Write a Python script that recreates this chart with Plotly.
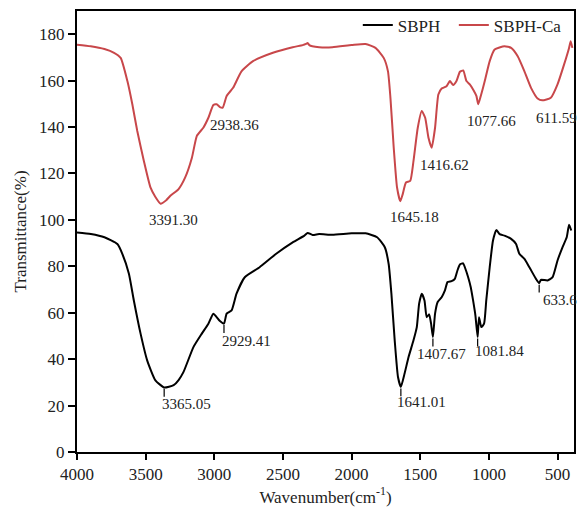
import plotly.graph_objects as go

# SBPH-Ca (red) spectrum
ca_x = [4000, 3900, 3800, 3730, 3682, 3633, 3597, 3561, 3513, 3465, 3430, 3391.30, 3350, 3320, 3260,
        3212, 3163, 3127, 3080, 3043, 3007, 2983, 2959, 2938.36, 2910, 2863, 2802, 2718, 2573,
        2429, 2356, 2332, 2320, 2308, 2286, 2236, 2140, 2000, 1898, 1826, 1766, 1735, 1717,
        1693, 1669, 1645.18, 1628, 1604, 1573, 1549, 1518, 1489, 1464, 1440, 1416.62, 1392,
        1368, 1344, 1308, 1284, 1260, 1236, 1211, 1187, 1163, 1139, 1115, 1091, 1077.66, 1059,
        1030, 994, 958, 886, 838, 790, 741, 693, 645, 611.59, 549, 500, 452, 416, 404, 392]
ca_y = [175.5, 174.8, 173.6, 172, 169.8, 159.8, 149.8, 138.3, 125.4, 114, 110, 107, 108.5, 110.4, 113.3,
        118.3, 126.8, 136.2, 139.7, 144, 149.5, 149.8, 148.6, 148.4, 153.4, 156.9, 164, 168.4, 172,
        174.4, 175.3, 175.8, 176.2, 175.3, 174.8, 174.4, 174.4, 175.3, 175.8, 174.1, 169.8, 164, 152.6,
        131.1, 114, 108, 111, 116.1, 116.8, 125.4, 139.7, 146.9, 144, 135.4, 131.1, 139.7,
        154, 156.6, 157.6, 159.8, 158.1, 159.8, 163.8, 164.4, 159.8, 158.4, 156.2, 153.4, 149.8, 153.4,
        159.8, 168.4, 173.4, 174.8, 174.1, 170.5, 164, 156.9, 152.3, 151.5, 152.6, 158.4, 167, 174.1, 177, 174.1]

# SBPH (black) spectrum
sb_x = [4000, 3899, 3800, 3706, 3670, 3622, 3586, 3537, 3489, 3429, 3365.05, 3296, 3260, 3224, 3152,
        3091, 3043, 3007, 2983, 2959, 2929.41, 2910, 2874, 2838, 2778, 2670, 2549, 2429, 2344,
        2320, 2284, 2236, 2140, 2000, 1898, 1814, 1758, 1730, 1710, 1686, 1662, 1641.01, 1614,
        1585, 1549, 1525, 1508, 1489, 1469, 1453, 1435, 1421, 1407.67, 1392, 1373, 1344, 1320,
        1301, 1272, 1248, 1229, 1211, 1187, 1175, 1151, 1132, 1115, 1098, 1081.84, 1072, 1055,
        1035, 1019, 994, 970, 946, 922, 886, 838, 802, 778, 741, 705, 657, 633.6, 621, 573,
        536, 500, 464, 433, 416, 400]
sb_y = [94.6, 93.9, 92.5, 89.6, 85.4, 76.8, 65.3, 51, 39.5, 30.9, 27.8, 28.8, 31, 34.5, 45.2,
        51, 55.3, 59.6, 58.1, 56.4, 55.3, 59.6, 61, 68.2, 75.3, 79.6, 85.4, 90.3, 93.2,
        94.4, 93.5, 93.9, 93.6, 94.2, 94.2, 92.5, 88.2, 81, 68.2, 48.1, 32.3, 28, 33.8,
        40.9, 48.1, 53.8, 63.9, 68.2, 65.3, 58.1, 59.3, 55.3, 49.5, 59.6, 64.6, 66.7, 69.6,
        73.2, 73.6, 74.6, 78.2, 80.8, 81.3, 79.6, 75.3, 71, 65.3, 58.8, 49.5, 58.1, 53.8,
        55.3, 65.3, 79.6, 91.1, 95.6, 93.9, 93.2, 91.8, 89.6, 85.4, 83.2, 79.6, 74.6, 72.7, 74.2, 73.9,
        75.3, 82.5, 88.2, 92.5, 97.9, 95.4]

# Peak labels
ca_peaks_x = [3391.30, 2938.36, 1645.18, 1416.62, 1077.66, 611.59]
ca_peaks_y = [107, 148.4, 108, 131.1, 149.8, 151.5]
ca_peaks_t = ["3391.30", "2938.36", "1645.18", "1416.62", "1077.66", "611.59"]

sb_peaks_x = [3365.05, 2929.41, 1641.01, 1407.67, 1081.84, 633.6]
sb_peaks_y = [27.8, 55.3, 28, 49.5, 49.5, 72.7]
sb_peaks_t = ["3365.05", "2929.41", "1641.01", "1407.67", "1081.84", "633.6"]

x_ticks = [4000, 3500, 3000, 2500, 2000, 1500, 1000, 500]
y_ticks = [0, 20, 40, 60, 80, 100, 120, 140, 160, 180]

RED = "#c8474a"
FONT = "Liberation Serif"

fig = go.Figure()
fig.add_trace(go.Scatter(x=sb_x, y=sb_y, mode="lines", name="SBPH\u00a0\u00a0",
                         line=dict(color="black", width=2, shape="spline", smoothing=0.5)))
fig.add_trace(go.Scatter(x=ca_x, y=ca_y, mode="lines", name="SBPH-Ca",
                         line=dict(color=RED, width=2, shape="spline", smoothing=0.5)))

# small tick marks under SBPH peaks
tx, ty = [], []
for px, py in zip(sb_peaks_x, sb_peaks_y):
    tx += [px, px, None]
    ty += [py - 0.6, py - 4.0, None]
fig.add_trace(go.Scatter(x=tx, y=ty, mode="lines", showlegend=False, hoverinfo="skip",
                         line=dict(color="black", width=1.2)))

ann = []
ca_shift = [(13, -16), (12, -17), (14, -16), (13, -17), (13, -17), (14, -18)]
for (px, py, t), (dx, dy) in zip(zip(ca_peaks_x, ca_peaks_y, ca_peaks_t), ca_shift):
    ann.append(dict(x=px, y=py, text=t, showarrow=False, xanchor="center", yanchor="middle",
                    xshift=dx, yshift=dy, font=dict(family=FONT, size=15, color="#222")))
sb_shift = [(22, -17), (23, -17), (21, -15), (9, -17), (22, -14), (21, -17)]
for (px, py, t), (dx, dy) in zip(zip(sb_peaks_x, sb_peaks_y, sb_peaks_t), sb_shift):
    ann.append(dict(x=px, y=py, text=t, showarrow=False, xanchor="center", yanchor="middle",
                    xshift=dx, yshift=dy, font=dict(family=FONT, size=15, color="#222")))

fig.update_layout(
    width=578, height=512,
    margin=dict(l=77, r=2, t=11, b=60),
    paper_bgcolor="white", plot_bgcolor="white",
    font=dict(family=FONT, size=17, color="#222"),
    showlegend=True,
    legend=dict(orientation="h", x=0.565, xanchor="left", y=1.008, yanchor="top",
                bgcolor="rgba(0,0,0,0)", font=dict(family=FONT, size=17, color="#222"),
                tracegroupgap=0, itemwidth=30),
    annotations=ann,
)
fig.update_xaxes(range=[4000, 380], tickvals=x_ticks, ticks="outside", ticklen=6, tickwidth=1.5,
                 tickcolor="black", showline=True, linecolor="black", linewidth=2, mirror=True,
                 showgrid=False, zeroline=False,
                 title=dict(text="Wavenumber(cm<sup>-1</sup>)", font=dict(size=17), standoff=7),
                 tickfont=dict(size=17))
fig.update_yaxes(range=[0, 190], tickvals=y_ticks, ticks="outside", ticklen=7, tickwidth=1.5,
                 tickcolor="black", showline=True, linecolor="black", linewidth=2, mirror=True,
                 showgrid=False, zeroline=False,
                 title=dict(text="Transmittance(%)", font=dict(size=17), standoff=8),
                 tickfont=dict(size=17))

fig.write_html("out.html")
